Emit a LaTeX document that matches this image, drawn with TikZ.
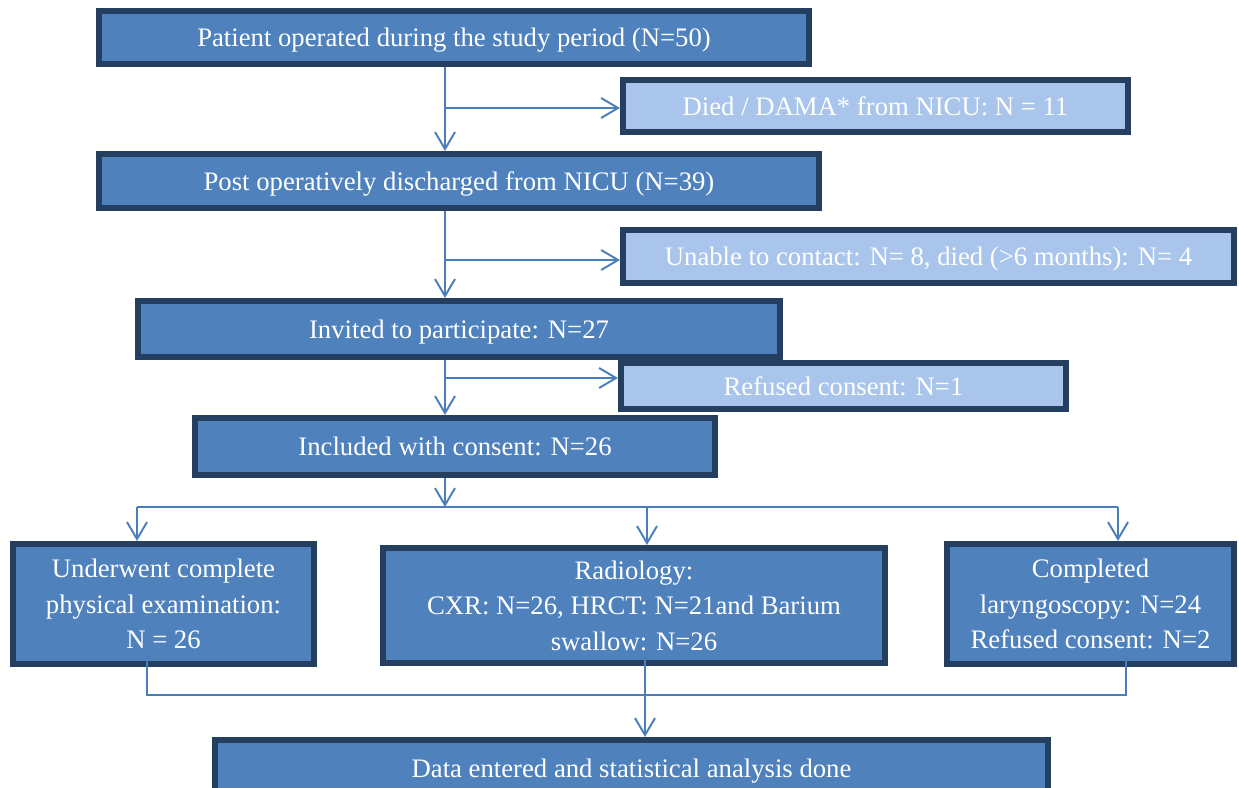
\documentclass[tikz,border=0pt]{standalone}
\usepackage{fontspec}
\setmainfont{Liberation Serif}
\usetikzlibrary{arrows.meta,positioning}
\definecolor{FlowBlue}{HTML}{4F81BD}
\definecolor{FlowLight}{HTML}{A9C5EB}
\definecolor{FlowEdge}{HTML}{243F60}
\definecolor{FlowLine}{HTML}{4A7EBB}

\begin{document}
\begin{tikzpicture}[x=0.02cm,y=-0.02cm,
  b/.style={draw=FlowEdge,line width=3.2pt,fill=FlowBlue,text=white,align=center,inner sep=0pt,
    text depth=0pt,font=\fontsize{15.2}{20.2}\selectfont},
  lb/.style={b,fill=FlowLight},
  ln/.style={draw=FlowLine,line width=1.1pt},
  ar/.style={ln,-{Straight Barb[length=3.4mm,width=4mm]}}]
  \useasboundingbox (0,0) rectangle (1239,787);
  % main column
  \node[b,minimum width=14.21cm,minimum height=1.07cm] (patient) at (454,37.5) {Patient operated during the study period (N=50)};
  \node[lb,minimum width=10.11cm,minimum height=1.05cm] (died) at (875.5,106) {Died / DAMA* from NICU: N = 11};
  \node[b,minimum width=14.41cm,minimum height=1.09cm] (post) at (459,181) {Post operatively discharged from NICU (N=39)};
  \node[lb,minimum width=12.23cm,minimum height=1.07cm] (unable) at (928.5,256.5) {Unable to contact: N= 8, died (>6 months): N= 4};
  \node[b,minimum width=12.85cm,minimum height=1.13cm] (invited) at (459,329) {Invited to participate: N=27};
  \node[lb,minimum width=8.91cm,minimum height=0.93cm] (refused) at (843.5,386) {Refused consent: N=1};
  \node[b,minimum width=10.41cm,minimum height=1.15cm] (included) at (455,446.5) {Included with consent: N=26};
  % three branches
  \node[b,minimum width=6.03cm,minimum height=2.41cm] (exam) at (163.5,604) {Underwent complete\\physical examination:\\N = 26};
  \node[b,minimum width=10.05cm,minimum height=2.31cm] (radio) at (634,605.5) {Radiology:\\CXR: N=26, HRCT: N=21and Barium\\swallow: N=26};
  \node[b,minimum width=5.75cm,minimum height=2.41cm] (laryn) at (1090.5,604) {Completed\\laryngoscopy: N=24\\Refused consent: N=2};
  \node[b,minimum width=16.67cm,minimum height=1.13cm] (data) at (631.5,768) {Data entered and statistical analysis done};

  \coordinate (t1) at (445,108);
  \coordinate (t2) at (445,260);
  \coordinate (t3) at (445,378);
  \draw[ar] (t1 |- patient.south) -- (t1 |- post.north);
  \draw[ar] (t1) -- (t1 -| died.west);
  \draw[ar] (t2 |- post.south) -- (t2 |- invited.north);
  \draw[ar] (t2) -- (t2 -| unable.west);
  \draw[ar] (t3 |- invited.south) -- (t3 |- included.north);
  \draw[ar] (t3) -- (t3 -| refused.west);

  \coordinate (sl) at (137,507);
  \coordinate (sm) at (647,507);
  \coordinate (sr) at (1118,507);
  \draw[ar] (t3 |- included.south) -- (t3 |- sl);
  \draw[ln] (sl) -- (sr);
  \draw[ar] (sl) -- (sl |- exam.north);
  \draw[ar] (sm) -- (sm |- radio.north);
  \draw[ar] (sr) -- (sr |- laryn.north);

  \coordinate (jl) at (147,695);
  \coordinate (jm) at (645,695);
  \coordinate (jr) at (1126,695);
  \draw[ln] (147,657) -- (jl) -- (jr) -- (1126,657);
  \draw[ar] (645,657) -- (jm |- data.north);
\end{tikzpicture}
\end{document}
